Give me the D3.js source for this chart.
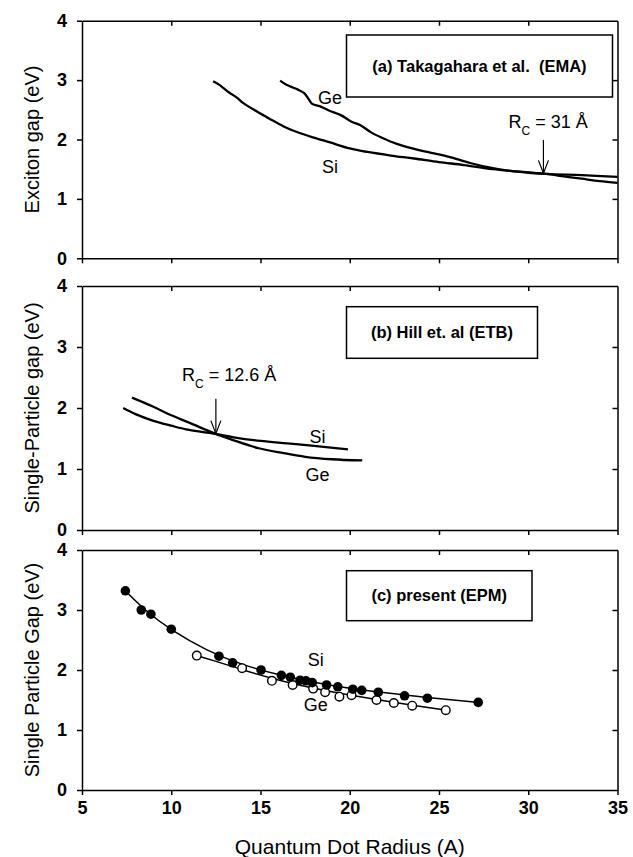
<!DOCTYPE html>
<html>
<head>
<meta charset="utf-8">
<script src="https://cdn.jsdelivr.net/npm/d3@7"></script>
<style>
  body { margin: 0; background: #fff; }
  text { font-family: "Liberation Sans", Arial, sans-serif; fill: #000; }
</style>
</head>
<body>
<svg width="633" height="857"></svg>
<script>
// ---- data ----
var xTicks = [5, 10, 15, 20, 25, 30, 35];
var yTicks = [0, 1, 2, 3, 4];

// (a) Takagahara et al. (EMA), exciton gap
var siA_R   = [12.35, 12.7, 13.2, 13.7, 14.0, 14.8, 15.5, 16.3, 17.0, 17.8, 18.9, 20.0, 21.0, 22.3, 23.6, 25.0, 26.4, 28.0, 29.5, 31.0, 33.0, 35.0];
var siA_gap = [2.98, 2.92, 2.8, 2.7, 2.62, 2.47, 2.35, 2.22, 2.13, 2.05, 1.95, 1.85, 1.79, 1.73, 1.68, 1.62, 1.57, 1.5, 1.46, 1.42, 1.4, 1.37];
var geA_R   = [16.1, 16.4, 16.7, 17.1, 17.45, 17.7, 17.9, 18.4, 18.9, 19.5, 20.1, 20.6, 21.2, 21.8, 22.6, 23.5, 24.5, 25.3, 26.0, 26.8, 27.8, 29.0, 30.0, 31.0, 32.0, 33.0, 34.0, 35.0];
var geA_gap = [2.99, 2.93, 2.89, 2.84, 2.78, 2.68, 2.6, 2.55, 2.48, 2.41, 2.3, 2.24, 2.12, 2.03, 1.93, 1.85, 1.78, 1.73, 1.67, 1.6, 1.53, 1.47, 1.44, 1.42, 1.38, 1.34, 1.3, 1.27];

// (b) Hill et al. (ETB), single-particle gap
var siB_R   = [7.31, 8.0, 9.0, 10.0, 11.0, 12.4, 13.5, 15.0, 16.5, 18.0, 19.9];
var siB_gap = [2.0, 1.9, 1.79, 1.71, 1.64, 1.58, 1.52, 1.46, 1.42, 1.38, 1.32];
var geB_R   = [7.8, 9.0, 10.0, 11.0, 12.45, 13.5, 14.9, 16.3, 17.5, 19.0, 20.7];
var geB_gap = [2.17, 2.02, 1.88, 1.76, 1.58, 1.47, 1.34, 1.26, 1.2, 1.16, 1.14];

// (c) present (EPM): points and fitted lines
var siC_R   = [7.43, 8.32, 8.86, 10.0, 12.67, 13.44, 15.03, 16.17, 16.67, 17.22, 17.55, 17.9, 18.7, 19.33, 20.17, 20.67, 21.6, 23.07, 24.35, 27.2];
var siC_gap = [3.32, 3.0, 2.93, 2.68, 2.23, 2.12, 2.0, 1.91, 1.88, 1.83, 1.82, 1.79, 1.75, 1.72, 1.68, 1.66, 1.63, 1.57, 1.53, 1.46];
var geC_R   = [11.43, 13.97, 15.64, 16.8, 17.95, 18.62, 19.42, 20.1, 21.5, 22.47, 23.5, 25.38];
var geC_gap = [2.24, 2.03, 1.82, 1.75, 1.69, 1.63, 1.555, 1.58, 1.5, 1.45, 1.405, 1.33];
var siFit_R   = [7.43, 8.5, 10, 12, 14, 16, 18, 20, 22, 24, 27.2];
var siFit_gap = [3.32, 3.0, 2.66, 2.32, 2.08, 1.92, 1.79, 1.69, 1.62, 1.55, 1.46];
var geFit_R   = [11.43, 13, 14, 16, 18, 20, 22, 24, 25.38];
var geFit_gap = [2.24, 2.1, 2.0, 1.83, 1.69, 1.58, 1.48, 1.39, 1.33];

function pts(rs, gs) { return rs.map(function(r, i) { return [r, gs[i]]; }); }

var svg = d3.select("svg");
var left = 82, right = 617.5;
var x = d3.scaleLinear().domain([5, 35]).range([left, right]);

var panels = [
  { top: 20.7, bottom: 258.3, ylabel: "Exciton gap (eV)", xlabels: false,
    box: [346.5, 35, 266, 62], title: "(a) Takagahara et al.  (EMA)",
    lines: [pts(siA_R, siA_gap), pts(geA_R, geA_gap)] },
  { top: 286, bottom: 530, ylabel: "Single-Particle gap (eV)", xlabels: false,
    box: [346.5, 306.7, 191, 51.6], title: "(b) Hill et. al (ETB)",
    lines: [pts(siB_R, siB_gap), pts(geB_R, geB_gap)] },
  { top: 550, bottom: 790, ylabel: "Single Particle Gap (eV)", xlabels: true,
    box: [346.5, 570.7, 185.5, 50], title: "(c) present (EPM)",
    lines: [] }
];

panels.forEach(function(p) {
  p.y = d3.scaleLinear().domain([0, 4]).range([p.bottom, p.top]);
  var g = svg.append("g");

  var axB = d3.axisBottom(x).tickValues(xTicks).tickSize(5).tickSizeOuter(0).tickPadding(6)
    .tickFormat(d3.format("d"));
  if (!p.xlabels) axB.tickFormat("");
  g.append("g").attr("class", "ax").attr("transform", "translate(0," + p.bottom + ")").call(axB);
  g.append("g").attr("class", "ax").attr("transform", "translate(0," + p.top + ")")
    .call(d3.axisTop(x).tickValues(xTicks.slice(1, -1)).tickSize(-5).tickSizeOuter(0).tickFormat(""));
  g.append("g").attr("class", "ax").attr("transform", "translate(" + left + ",0)")
    .call(d3.axisLeft(p.y).tickValues(yTicks).tickSize(5).tickSizeOuter(0).tickPadding(10)
      .tickFormat(d3.format("d")));
  g.append("g").attr("class", "ax").attr("transform", "translate(" + right + ",0)")
    .call(d3.axisRight(p.y).tickValues(yTicks.slice(1, -1)).tickSize(-5).tickSizeOuter(0).tickFormat(""));

  g.append("text")
    .attr("transform", "translate(32," + ((p.top + p.bottom) / 2) + ") rotate(-90)")
    .attr("text-anchor", "middle").attr("dy", "0.35em")
    .style("font-size", "20px")
    .text(p.ylabel);

  g.append("rect")
    .attr("x", p.box[0]).attr("y", p.box[1]).attr("width", p.box[2]).attr("height", p.box[3])
    .attr("fill", "#fff").attr("stroke", "#000").attr("stroke-width", 1.5);
  g.append("text")
    .attr("x", p.box[0] + p.box[2] / 2).attr("y", p.box[1] + p.box[3] / 2)
    .attr("text-anchor", "middle").attr("dy", "0.35em")
    .attr("xml:space", "preserve")
    .style("font-size", "16.5px").style("font-weight", "bold")
    .text(p.title);

  var line = d3.line().x(function(d) { return x(d[0]); }).y(function(d) { return p.y(d[1]); })
    .curve(d3.curveCatmullRom);
  p.lines.forEach(function(l) {
    g.append("path").attr("d", line(l)).attr("fill", "none")
      .attr("stroke", "#000").attr("stroke-width", 2.3).attr("stroke-linejoin", "round");
  });
});

svg.selectAll(".ax path, .ax line").attr("stroke", "#000").attr("stroke-width", 1.5);
svg.selectAll(".ax text").style("font-size", "18px").style("font-weight", "bold")
  .style("font-family", "'Liberation Sans', Arial, sans-serif");

// panel (c) fits and points
var pc = panels[2];
var fitLine = d3.line().x(function(d) { return x(d[0]); }).y(function(d) { return pc.y(d[1]); })
  .curve(d3.curveBasis);
svg.append("path").attr("d", fitLine(pts(siFit_R, siFit_gap))).attr("fill", "none")
  .attr("stroke", "#000").attr("stroke-width", 1.5);
svg.append("path").attr("d", fitLine(pts(geFit_R, geFit_gap))).attr("fill", "none")
  .attr("stroke", "#000").attr("stroke-width", 1.5);
svg.append("g").selectAll("circle").data(pts(geC_R, geC_gap)).join("circle")
  .attr("cx", function(d) { return x(d[0]); }).attr("cy", function(d) { return pc.y(d[1]); })
  .attr("r", 4.3).attr("fill", "#fff").attr("stroke", "#000").attr("stroke-width", 1.4);
svg.append("g").selectAll("circle").data(pts(siC_R, siC_gap)).join("circle")
  .attr("cx", function(d) { return x(d[0]); }).attr("cy", function(d) { return pc.y(d[1]); })
  .attr("r", 4.8).attr("fill", "#000");

// curve labels
function label(p, r, gap, s) {
  svg.append("text").attr("x", x(r)).attr("y", p.y(gap)).attr("text-anchor", "middle")
    .attr("dy", "0.35em").style("font-size", "18px").text(s);
}
label(panels[0], 18.9, 2.7, "Ge");
label(panels[0], 18.9, 1.54, "Si");
label(panels[1], 18.2, 1.53, "Si");
label(panels[1], 18.2, 0.9, "Ge");
label(panels[2], 18.1, 2.17, "Si");
label(panels[2], 18.1, 1.42, "Ge");

// critical radius arrows
function arrow(p, r, g0, g1, tx, tgap, num) {
  var xa = x(r), y0 = p.y(g0), y1 = p.y(g1);
  svg.append("line").attr("x1", xa).attr("x2", xa).attr("y1", y0).attr("y2", y1)
    .attr("stroke", "#000").attr("stroke-width", 1.2);
  svg.append("path").attr("d", "M" + (xa - 5) + "," + (y1 - 13) + "L" + xa + "," + y1 + "L" + (xa + 5) + "," + (y1 - 13))
    .attr("fill", "none").attr("stroke", "#000").attr("stroke-width", 1.2);
  var t = svg.append("text").attr("x", x(tx)).attr("y", p.y(tgap)).style("font-size", "18px");
  t.append("tspan").text("R");
  t.append("tspan").attr("baseline-shift", "sub").style("font-size", "12px").text("C");
  t.append("tspan").text(" = " + num + " Å");
}
arrow(panels[0], 30.85, 1.99, 1.43, 28.9, 2.19, "31");
arrow(panels[1], 12.5, 2.15, 1.58, 10.6, 2.45, "12.6");

svg.append("text").attr("x", (left + right) / 2).attr("y", 847).attr("text-anchor", "middle")
  .attr("dy", "0.35em").style("font-size", "21px").text("Quantum Dot Radius (A)");
</script>
</body>
</html>
